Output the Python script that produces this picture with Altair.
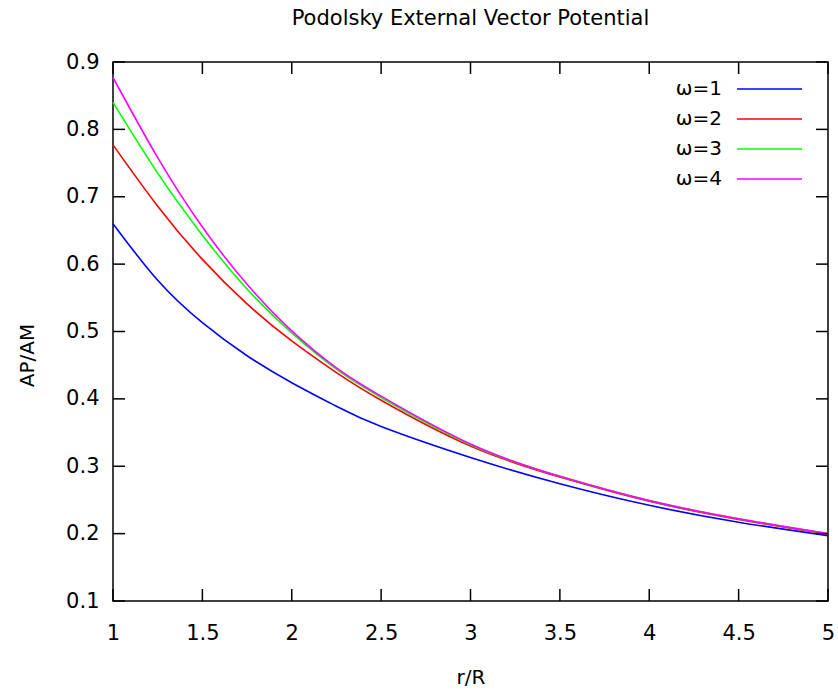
import altair as alt
import pandas as pd

# ---- data ----
r_vals = [1.0, 1.25, 1.5, 1.75, 2.0, 2.25, 2.5, 3.0, 3.5, 4.0, 4.5, 5.0]
w1 = [0.660, 0.576, 0.513, 0.464, 0.424, 0.389, 0.359, 0.313, 0.274, 0.242, 0.217, 0.197]
w2 = [0.777, 0.686, 0.607, 0.541, 0.486, 0.439, 0.398, 0.330, 0.284, 0.248, 0.221, 0.199]
w3 = [0.840, 0.735, 0.643, 0.563, 0.498, 0.444, 0.402, 0.332, 0.285, 0.249, 0.222, 0.200]
w4 = [0.877, 0.758, 0.655, 0.570, 0.501, 0.446, 0.404, 0.333, 0.285, 0.249, 0.222, 0.200]

series_labels = ["ω=1", "ω=2", "ω=3", "ω=4"]
series_colors = ["#0000ff", "#ff0000", "#00ff00", "#ff00ff"]

x_ticks = [1, 1.5, 2, 2.5, 3, 3.5, 4, 4.5, 5]
y_ticks = [0.1, 0.2, 0.3, 0.4, 0.5, 0.6, 0.7, 0.8, 0.9]

rows = []
for lab, vals in zip(series_labels, [w1, w2, w3, w4]):
    for r, v in zip(r_vals, vals):
        rows.append({"r": r, "value": v, "series": lab})
df = pd.DataFrame(rows)
xt_df = pd.DataFrame({"r": x_ticks})
yt_df = pd.DataFrame({"value": y_ticks})
leg_df = pd.DataFrame({"series": series_labels})

W, H = 715, 539
FONT = "DejaVu Sans"

x_scale = alt.Scale(domain=[1, 5], nice=False, zero=False)
y_scale = alt.Scale(domain=[0.1, 0.9], nice=False, zero=False)
color_scale = alt.Scale(domain=series_labels, range=series_colors)

x_axis = alt.Axis(
    title="r/R", values=x_ticks, format="~g", labelFlush=False,
    domain=False, ticks=False, tickSize=0, grid=False,
    labelFont=FONT, labelFontSize=21, labelColor="black", labelPadding=21,
    titleFont=FONT, titleFontSize=20, titleFontWeight="normal", titleColor="black",
    titleY=76, titleBaseline="middle",
)
y_axis = alt.Axis(
    title="AP/AM", values=y_ticks, format=".1f", labelFlush=False,
    domain=False, ticks=False, tickSize=0, grid=False,
    labelFont=FONT, labelFontSize=21, labelColor="black", labelPadding=14,
    titleFont=FONT, titleFontSize=20, titleFontWeight="normal", titleColor="black",
    titleAngle=270, titleX=-86, titleY=293, titleBaseline="middle", titleAlign="center",
)


def xenc():
    return alt.X("r:Q", scale=x_scale, axis=x_axis)


def yenc():
    return alt.Y("value:Q", scale=y_scale, axis=y_axis)


lines = alt.Chart(df).mark_line(interpolate="natural", strokeWidth=1.6).encode(
    x=xenc(), y=yenc(),
    color=alt.Color("series:N", scale=color_scale, legend=None),
    detail="series:N",
)

tick_len = 12
bottom_ticks = alt.Chart(xt_df).mark_rule(color="black", strokeWidth=1.5).encode(
    x=xenc(), y=alt.value(H), y2=alt.value(H - tick_len),
)
top_ticks = alt.Chart(xt_df).mark_rule(color="black", strokeWidth=1.5).encode(
    x=xenc(), y=alt.value(0), y2=alt.value(tick_len),
)
left_ticks = alt.Chart(yt_df).mark_rule(color="black", strokeWidth=1.5).encode(
    y=yenc(), x=alt.value(0), x2=alt.value(tick_len),
)
right_ticks = alt.Chart(yt_df).mark_rule(color="black", strokeWidth=1.5).encode(
    y=yenc(), x=alt.value(W), x2=alt.value(W - tick_len),
)

# manual gnuplot-style key: text on the left, line sample on the right
leg_rows = [27, 57, 87, 117]
legend_layers = []
for lab, ypos in zip(series_labels, leg_rows):
    base = alt.Chart(leg_df).transform_filter(alt.datum.series == lab)
    legend_layers.append(
        base.mark_text(align="right", baseline="middle", font=FONT, fontSize=20, color="black")
        .encode(x=alt.value(609), y=alt.value(ypos), text="series:N")
    )
    legend_layers.append(
        base.mark_rule(strokeWidth=1.6)
        .encode(x=alt.value(624), x2=alt.value(689), y=alt.value(ypos),
                color=alt.Color("series:N", scale=color_scale, legend=None))
    )

chart = alt.layer(lines, bottom_ticks, top_ticks, left_ticks, right_ticks, *legend_layers).properties(
    width=W, height=H,
    title=alt.TitleParams(
        text="Podolsky External Vector Potential", font=FONT, fontSize=21,
        fontWeight="normal", color="black", anchor="middle", offset=22,
    ),
    autosize=alt.AutoSizeParams(type="none"),
    padding={"left": 113, "top": 62, "right": 10, "bottom": 90},
).configure(background="white").configure_view(stroke="black", strokeWidth=1.5)

chart.save("out.html", embed_options={"renderer": "svg", "actions": False})
